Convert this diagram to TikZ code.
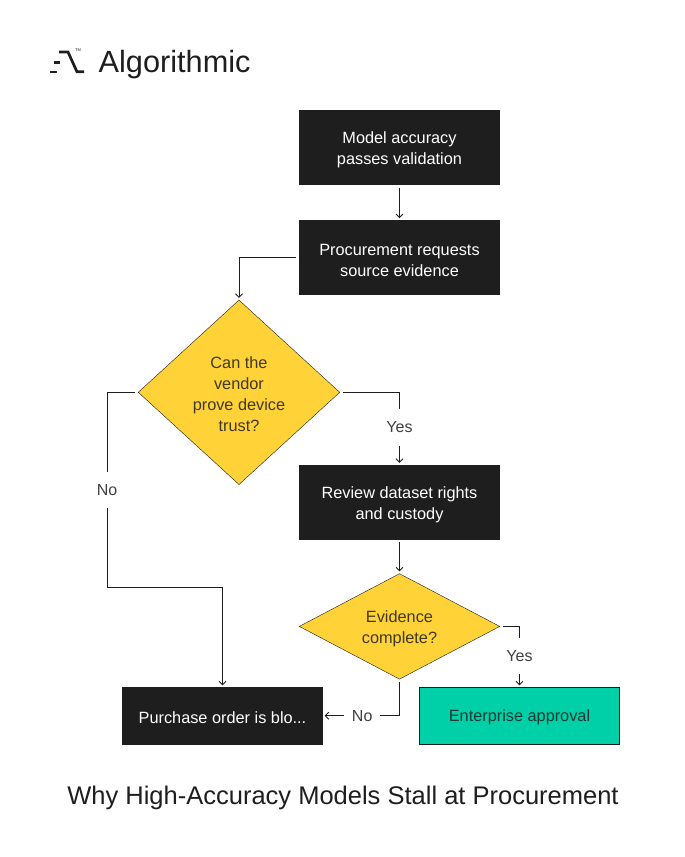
\documentclass[tikz,border=0pt]{standalone}
\usepackage{fontspec}
\setmainfont{Liberation Sans}
\usetikzlibrary{positioning,shapes.geometric,arrows.meta}
\definecolor{inkblack}{HTML}{1E1E1E}
\definecolor{signyellow}{HTML}{FFD238}
\definecolor{signteal}{HTML}{00D0A8}
\newcommand{\toppad}{\rule{0pt}{16.5pt}}
\tikzset{
  basebox/.style={rectangle,draw=inkblack,fill=inkblack,text=white,minimum width=200pt,inner sep=0pt,align=center,font=\fontsize{16.3}{21}\selectfont},
  stepbox/.style={basebox,minimum height=74.2pt},
  shortbox/.style={basebox,minimum height=56.3pt,execute at begin node={\rule{0pt}{15pt}}},
  decision/.style={diamond,draw=inkblack,fill=signyellow,text=inkblack!85!signyellow,inner sep=0pt,align=center,font=\fontsize{16.3}{21}\selectfont},
  flow/.style={draw=inkblack,line width=0.9pt,->,>={Straight Barb[length=3.5pt,width=7pt]},shorten >=2pt,shorten <=3pt},
  edgelabel/.style={fill=white,text=inkblack!85,inner xsep=8pt,inner ysep=12.5pt,font=\fontsize{16}{18}\selectfont}
}
\begin{document}
\begin{tikzpicture}[x=1pt,y=-1pt]
\useasboundingbox (0,0) rectangle (685,857);
% Logo
\fill[inkblack] (50,70.5) rectangle (57,73.2);
\fill[inkblack] (54,61) rectangle (59.5,63.5);
\draw[inkblack,line width=2.7pt,line join=miter] (59,52) -- (68,52) -- (77,71.8) -- (84,71.8);
\node[inner sep=0pt,font=\fontsize{4}{4}\selectfont,text=inkblack] (tmark) at (78,50.5) {TM};
\node[inner sep=0pt,anchor=west,font=\fontsize{30.7}{31}\selectfont,text=inkblack] (brand) at (98.5,65) {Algorithmic};
% First column
\node[stepbox] (accuracy) at (399.5,147.5) {\toppad Model accuracy\\passes validation};
\node[stepbox,below=35.4pt of accuracy] (request) {\toppad Procurement requests\\source evidence};
% Big decision
\node[decision,minimum width=201.6pt,minimum height=184.6pt,below=5pt of request,xshift=-160.5pt] (trust) {\toppad Can the\\vendor\\prove device\\trust?};
% Second part of the column
\node[stepbox,below=170pt of request] (rights) {\toppad Review dataset rights\\and custody};
\node[decision,aspect=2,minimum width=200.6pt,minimum height=105.6pt,below=34pt of rights] (complete) {\toppad Evidence\\complete?};
% Last row
\node[shortbox,below=8pt of complete,xshift=-177pt] (blocked) {Purchase order is blo...};
\node[shortbox,fill=signteal,text=inkblack!85!signteal,below=8pt of complete,xshift=120pt] (approval) {Enterprise approval};
\coordinate (leftdrop) at (107,587);
% Title
\node[inner sep=0pt,font=\fontsize{25.5}{28}\selectfont,text=inkblack] (title) at (343,798) {Why High-Accuracy Models Stall at Procurement};
% Edges
\draw[flow] (accuracy) -- (request);
\draw[flow] (request.west) -| (trust.north);
\draw[flow] (trust.east) -| node[edgelabel,pos=0.743] {Yes} (rights.north);
\draw[flow] (trust.west) -| node[edgelabel,pos=0.75] {No} (leftdrop) -| (blocked.north);
\draw[flow] (rights) -- (complete);
\draw[flow] (complete.east) -| node[edgelabel,pos=0.745] {Yes} (approval.north);
\draw[flow] (complete.south) |- node[edgelabel,pos=0.743] {No} (blocked.east);
\end{tikzpicture}
\end{document}
